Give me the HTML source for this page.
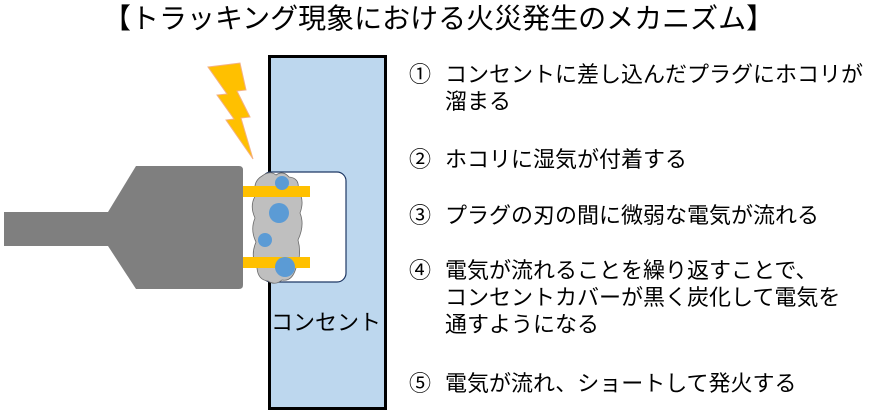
<!DOCTYPE html>
<html><head><meta charset="utf-8"><style>
body{margin:0;width:886px;height:414px;background:#fff;position:relative;overflow:hidden;font-family:"Liberation Sans","Noto Sans CJK JP",sans-serif;color:#000}
.t{position:absolute;white-space:nowrap;line-height:1}
.l{font-size:22px;left:445px}
.n{font-size:22px;left:409px}
</style></head><body>
<div class="t" style="left:103px;top:5px;font-size:28px">【トラッキング現象における火災発生のメカニズム】</div>
<svg width="886" height="414" style="position:absolute;left:0;top:0">
<rect x="269.5" y="56.5" width="116" height="352" fill="#BDD7EE" stroke="#000" stroke-width="3"/>
<rect x="262" y="172" width="84" height="110" rx="9" fill="#fff" stroke="#1f3864" stroke-width="1.2"/>
<rect x="4" y="212" width="110" height="34" fill="#7f7f7f"/>
<path d="M108 212 L136 166 L239 166 Q243 166 243 170 L243 285 Q243 289 239 289 L136 289 L108 246 Z" fill="#7f7f7f"/>
<path d="M262 176 Q270 170 276 175 Q283 170 289 177 Q300 178 298 190 Q305 200 300 213 Q305 225 298 240 Q302 255 296 268 Q292 282 282 280 Q275 286 268 281 Q258 280 257 268 Q250 256 256 242 Q250 230 255 218 Q249 205 256 195 Q252 182 262 176 Z" fill="#bfbfbf" stroke="#6b6b6b" stroke-width="0.8"/>
<rect x="243" y="186" width="67" height="11" fill="#FFC000"/>
<rect x="243" y="257" width="67" height="11" fill="#FFC000"/>
<circle cx="282" cy="183" r="7" fill="#5B9BD5"/>
<circle cx="279" cy="213" r="10" fill="#5B9BD5"/>
<circle cx="265" cy="240" r="7" fill="#5B9BD5"/>
<circle cx="285" cy="267" r="10" fill="#5B9BD5"/>
<polygon points="208,67 240,63 246,90 237,91 250,117 241,118 253,159 226,120 234,119 217,95 227,94" fill="#FFC000" stroke="#f4b183" stroke-width="1"/>
</svg>
<div class="t" style="left:271px;top:312px;font-size:22px">コンセント</div>
<div class="t n" style="top:64px">①</div>
<div class="t l" style="top:64px">コンセントに差し込んだプラグにホコリが</div>
<div class="t l" style="top:91px">溜まる</div>
<div class="t n" style="top:149px">②</div>
<div class="t l" style="top:149px">ホコリに湿気が付着する</div>
<div class="t n" style="top:205px">③</div>
<div class="t l" style="top:205px">プラグの刃の間に微弱な電気が流れる</div>
<div class="t n" style="top:260px">④</div>
<div class="t l" style="top:260px">電気が流れることを繰り返すことで、</div>
<div class="t l" style="top:287px">コンセントカバーが黒く炭化して電気を</div>
<div class="t l" style="top:314px">通すようになる</div>
<div class="t n" style="top:373px">⑤</div>
<div class="t l" style="top:373px">電気が流れ、ショートして発火する</div>
</body></html>
